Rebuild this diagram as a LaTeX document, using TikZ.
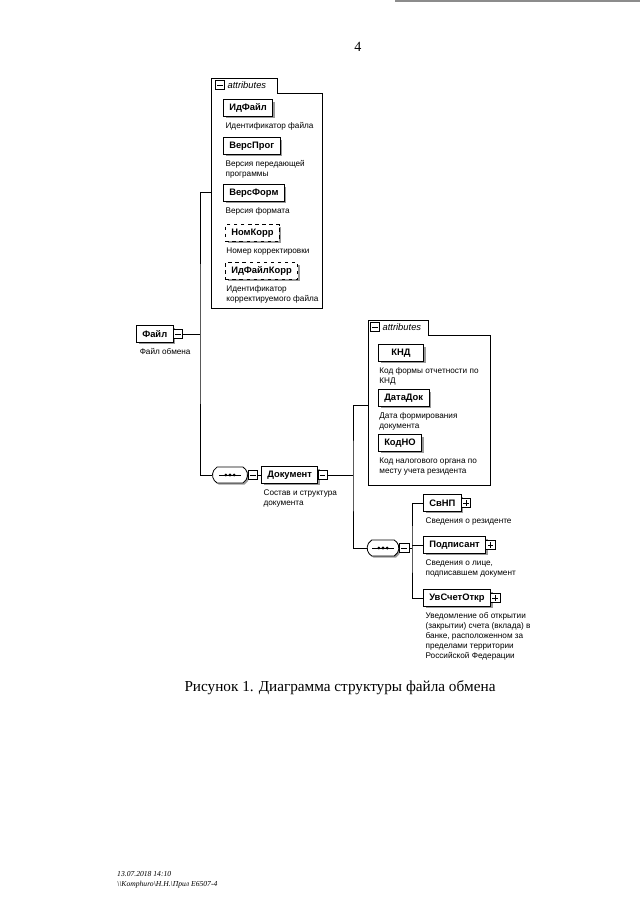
\documentclass[tikz,border=0pt]{standalone}
\usepackage{fontspec}
\setmainfont{Liberation Serif}
\setsansfont{Liberation Sans}
\usetikzlibrary{positioning,shadows,shapes.misc}
\definecolor{shade-gray}{HTML}{9A9A9A}
\definecolor{scan-gray}{HTML}{8C8C8C}

\begin{document}
\begin{tikzpicture}[x=0.03cm, y=-0.03cm,
    every node/.style={font=\sffamily\fontsize{7}{8.5}\selectfont},
    elem/.style={draw, line width=0.7pt, fill=white, anchor=west,
      minimum height=0.5cm, minimum width=1.1cm, inner xsep=5pt,
      font=\sffamily\bfseries\fontsize{8}{9}\selectfont,
      drop shadow={shadow xshift=1.8pt, shadow yshift=-1.8pt,
        fill=shade-gray, opacity=1}},
    optelem/.style={elem, dashed},
    desc/.style={anchor=north west, align=left, inner sep=0pt},
    minus/.style={draw, fill=white, minimum size=8pt, inner sep=0pt,
      line width=0.6pt,
      path picture={\draw ([xshift=-2.4pt]path picture bounding box.center)
        -- ([xshift=2.4pt]path picture bounding box.center);}},
    plus/.style={draw, fill=white, minimum size=8pt, inner sep=0pt,
      line width=0.6pt,
      path picture={\draw ([xshift=-2.4pt]path picture bounding box.center)
        -- ([xshift=2.4pt]path picture bounding box.center);
        \draw ([yshift=-2.4pt]path picture bounding box.center)
        -- ([yshift=2.4pt]path picture bounding box.center);}},
    seqbox/.style={draw, line width=0.7pt, fill=white, rounded rectangle,
      rounded rectangle arc length=120, minimum height=0.48cm,
      minimum width=1.05cm, inner sep=0pt,
      drop shadow={shadow xshift=1.4pt, shadow yshift=-1.4pt,
        fill=shade-gray, opacity=1},
      path picture={\draw[line width=0.8pt]
        ([xshift=-9pt]path picture bounding box.center)
        -- ([xshift=9pt]path picture bounding box.center);
        \foreach \d in {-3.6,0,3.6}
          \fill[black] ([xshift=\d pt]path picture bounding box.center)
            circle (1.3pt);}},
    tabtext/.style={font=\sffamily\itshape\fontsize{8}{9}\selectfont,
      anchor=west, inner sep=1pt},
    link/.style={line width=0.7pt}]
  \useasboundingbox (0,0) rectangle (640,905);
  \draw[scan-gray, line width=1pt] (395,1) -- (640,1);

  \node[font=\rmfamily\fontsize{12}{14}\selectfont] (pnum) at (358,47) {4};

  % attributes of Файл
  \draw[link] (211,308) -- (211,78) -- (277,78) -- (277,93) -- (322,93)
    -- (322,308) -- cycle;
  \coordinate (att1) at (211,192);
  \node[minus] (att1-m) at (220,85) {};
  \node[tabtext, right=1pt of att1-m] (att1-t) {attributes};

  \node[elem] (idf) at (223,108) {ИдФайл};
  \node[desc] (idf-d) at ([xshift=2pt, yshift=-5pt]idf.south west)
    {Идентификатор файла};
  \node[elem] (vprog) at (223,146) {ВерсПрог};
  \node[desc] (vprog-d) at ([xshift=2pt, yshift=-5pt]vprog.south west)
    {Версия передающей\\программы};
  \node[elem] (vform) at (223,193) {ВерсФорм};
  \node[desc] (vform-d) at ([xshift=2pt, yshift=-5pt]vform.south west)
    {Версия формата};
  \node[optelem] (nkorr) at (225,233) {НомКорр};
  \node[desc] (nkorr-d) at ([xshift=1pt, yshift=-5pt]nkorr.south west)
    {Номер корректировки};
  \node[optelem] (idfk) at (225,271) {ИдФайлКорр};
  \node[desc] (idfk-d) at ([xshift=1pt, yshift=-5pt]idfk.south west)
    {Идентификатор\\корректируемого файла};

  % root element
  \node[elem] (fl) at (136,334) {Файл};
  \node[minus, right=-0.5pt of fl] (fl-m) {};
  \node[desc] (fl-d) at ([xshift=3pt, yshift=-5pt]fl.south west)
    {Файл обмена};
  \coordinate (fl-j) at (200,334);

  % sequence -> Документ
  \node[seqbox] (s1) at (230,475) {};
  \node[minus, right=0pt of s1] (s1-m) {};
  \node[elem] (dk) at (261,475) {Документ};
  \node[minus, right=-0.5pt of dk] (dk-m) {};
  \node[desc] (dk-d) at ([xshift=2pt, yshift=-5pt]dk.south west)
    {Состав и структура\\документа};
  \coordinate (dk-j) at (353,475);

  % attributes of Документ
  \draw[link] (368,485) -- (368,320) -- (428,320) -- (428,335) -- (490,335)
    -- (490,485) -- cycle;
  \coordinate (att2) at (368,405);
  \node[minus] (att2-m) at (375,327) {};
  \node[tabtext, right=1pt of att2-m] (att2-t) {attributes};

  \node[elem, minimum width=1.35cm] (knd) at (378,353) {КНД};
  \node[desc] (knd-d) at ([xshift=1pt, yshift=-5pt]knd.south west)
    {Код формы отчетности по\\КНД};
  \node[elem] (dd) at (378,398) {ДатаДок};
  \node[desc] (dd-d) at ([xshift=1pt, yshift=-5pt]dd.south west)
    {Дата формирования\\документа};
  \node[elem] (kno) at (378,443) {КодНО};
  \node[desc] (kno-d) at ([xshift=1pt, yshift=-5pt]kno.south west)
    {Код налогового органа по\\месту учета резидента};

  % sequence of Документ
  \node[seqbox, minimum width=0.95cm] (s2) at (383,548) {};
  \node[minus, right=0pt of s2] (s2-m) {};
  \coordinate (s2-j) at (412,548);

  \node[elem] (svnp) at (423,503) {СвНП};
  \node[plus, right=-0.5pt of svnp] (svnp-p) {};
  \node[desc] (svnp-d) at ([xshift=2pt, yshift=-5pt]svnp.south west)
    {Сведения о резиденте};
  \node[elem] (podp) at (423,545) {Подписант};
  \node[plus, right=-0.5pt of podp] (podp-p) {};
  \node[desc] (podp-d) at ([xshift=2pt, yshift=-5pt]podp.south west)
    {Сведения о лице,\\подписавшем документ};
  \node[elem] (uv) at (423,598) {УвСчетОткр};
  \node[plus, right=-0.5pt of uv] (uv-p) {};
  \node[desc] (uv-d) at ([xshift=2pt, yshift=-5pt]uv.south west)
    {Уведомление об открытии\\(закрытии) счета (вклада) в\\банке,
    расположенном за\\пределами территории\\Российской Федерации};

  % connectors
  \draw[link] (fl-m.east) -- (fl-j);
  \draw[link] (att1) -| (fl-j) |- (s1.west);
  \draw[link] (s1-m.east) -- (dk.west);
  \draw[link] (dk-m.east) -- (dk-j);
  \draw[link] (att2) -| (dk-j) |- (s2.west);
  \draw[link] (s2-m.east) -- (s2-j);
  \draw[link] (svnp.west) -| (s2-j) |- (uv.west);
  \draw[link] (podp.west) -- (podp.west -| s2-j);

  \node[font=\rmfamily\fontsize{13}{15}\selectfont] (cap) at (340,688)
    {Рисунок 1. Диаграмма структуры файла обмена};

  \node[font=\rmfamily\itshape\fontsize{6.5}{8}\selectfont, anchor=west,
    inner sep=0pt] (ft1) at (117,874) {13.07.2018 14:10};
  \node[font=\rmfamily\itshape\fontsize{6.5}{8}\selectfont, anchor=west,
    inner sep=0pt] (ft2) at (117,885)
    {\textbackslash\textbackslash Komphuro\textbackslash H.H.\textbackslash Прил E6507-4};
\end{tikzpicture}
\end{document}
